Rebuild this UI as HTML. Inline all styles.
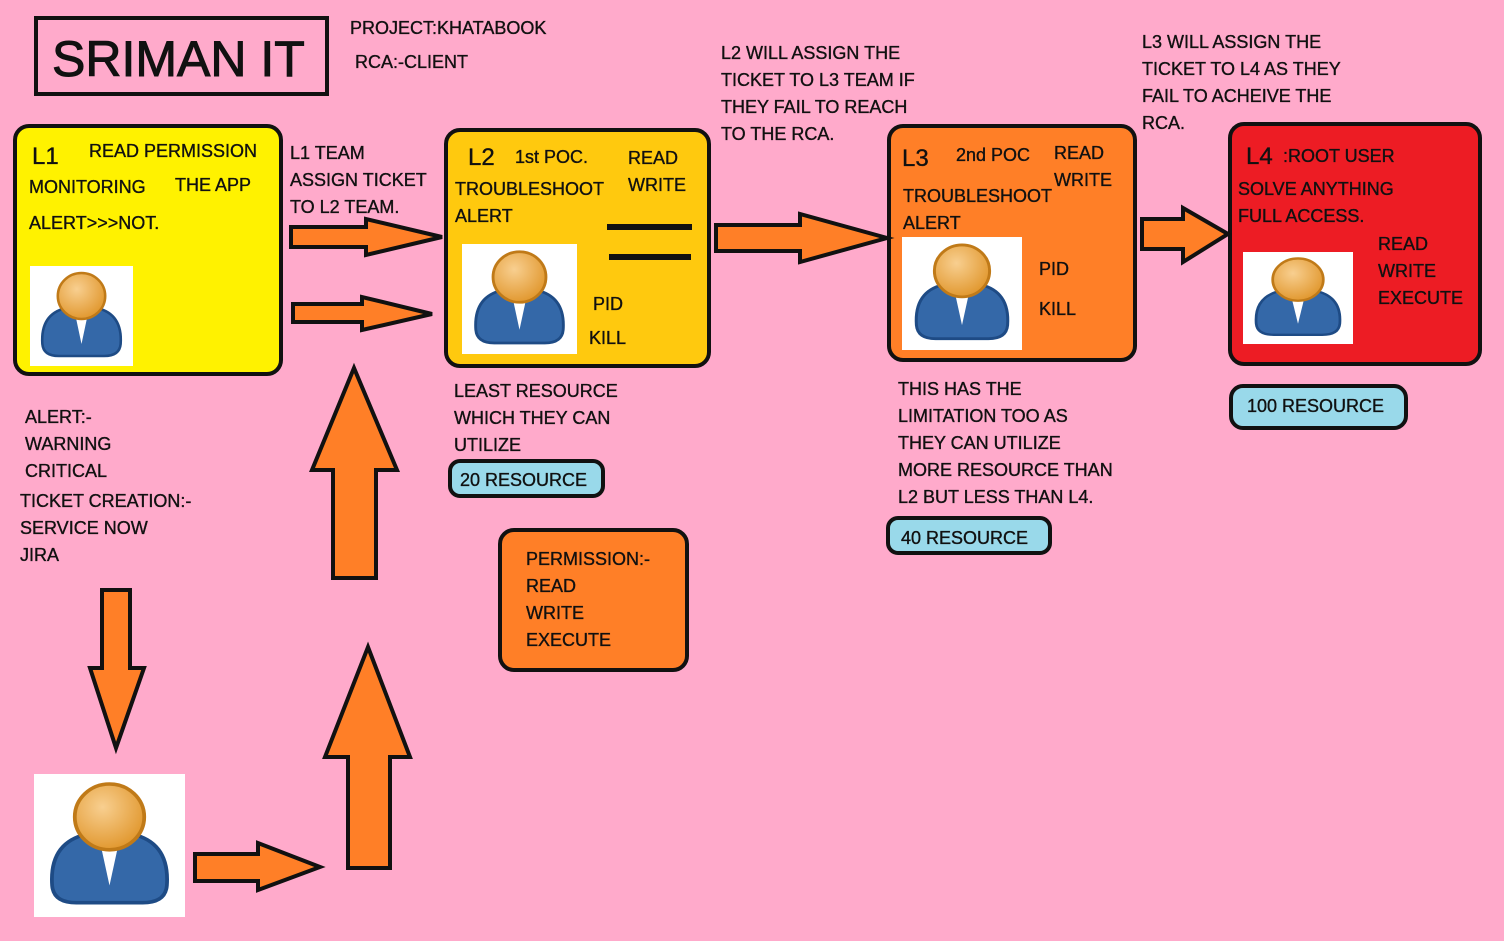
<!DOCTYPE html>
<html><head><meta charset="utf-8"><style>
html,body{margin:0;padding:0;background:#FFAACB;}
svg{display:block;}
text{font-family:"Liberation Sans",sans-serif;font-size:18px;fill:#111;stroke:#111;stroke-width:0.35px;}
</style></head><body>
<svg width="1504" height="941" viewBox="0 0 1504 941" xmlns="http://www.w3.org/2000/svg">
<defs>
<radialGradient id="hd" cx="0.4" cy="0.35" r="0.7"><stop offset="0" stop-color="#F8CF90"/><stop offset="1" stop-color="#E0952A"/></radialGradient>
<g id="ic">
<rect x="0" y="0" width="100" height="100" fill="#fff"/>
<path d="M12 78 Q10 48 35 42 L65 42 Q90 48 88 78 Q87 90 72 90 L28 90 Q13 90 12 78Z" fill="#3468A8" stroke="#1E4B85" stroke-width="2.5"/>
<path d="M43 44 L50 78 L57 44Z" fill="#fff"/>
<circle cx="50" cy="30" r="23" fill="url(#hd)" stroke="#C07A18" stroke-width="2.5"/>
</g>
</defs>
<rect width="1504" height="941" fill="#FFAACB"/>
<rect x="36" y="18" width="291" height="76" fill="none" stroke="#111" stroke-width="4"/>
<text x="52" y="76" style="font-size:50px;stroke-width:1px">SRIMAN IT</text>
<text x="350" y="34">PROJECT:KHATABOOK</text>
<text x="355" y="68">RCA:-CLIENT</text>
<text x="721" y="59">L2 WILL ASSIGN THE</text>
<text x="721" y="86">TICKET TO L3 TEAM IF</text>
<text x="721" y="113">THEY FAIL TO REACH</text>
<text x="721" y="140">TO THE RCA.</text>
<text x="1142" y="48">L3 WILL ASSIGN THE</text>
<text x="1142" y="75">TICKET TO L4 AS THEY</text>
<text x="1142" y="102">FAIL TO ACHEIVE THE</text>
<text x="1142" y="129">RCA.</text>
<rect x="15" y="126" width="266" height="248" rx="14" fill="#FFF200" stroke="#111" stroke-width="4"/>
<text x="32" y="164" style="font-size:24px">L1</text>
<text x="89" y="157">READ PERMISSION</text>
<text x="29" y="193">MONITORING</text>
<text x="175" y="191">THE APP</text>
<text x="29" y="229">ALERT&gt;&gt;&gt;NOT.</text>
<use href="#ic" transform="translate(30,266) scale(1.03,1)"/>
<text x="290" y="159">L1 TEAM</text>
<text x="290" y="186">ASSIGN TICKET</text>
<text x="290" y="213">TO L2 TEAM.</text>
<rect x="446" y="130" width="263" height="236" rx="14" fill="#FFC90E" stroke="#111" stroke-width="4"/>
<text x="468" y="165" style="font-size:24px">L2</text>
<text x="515" y="163">1st POC.</text>
<text x="628" y="164">READ</text>
<text x="455" y="195">TROUBLESHOOT</text>
<text x="628" y="191">WRITE</text>
<text x="455" y="222">ALERT</text>
<rect x="607" y="224" width="85" height="6" fill="#111"/>
<rect x="609" y="254" width="82" height="6" fill="#111"/>
<use href="#ic" transform="translate(462,244) scale(1.15,1.1)"/>
<text x="593" y="310">PID</text>
<text x="589" y="344">KILL</text>
<text x="454" y="397">LEAST RESOURCE</text>
<text x="454" y="424">WHICH THEY CAN</text>
<text x="454" y="451">UTILIZE</text>
<rect x="450" y="461" width="153" height="35" rx="10" fill="#99D9EA" stroke="#111" stroke-width="4"/>
<text x="460" y="486">20 RESOURCE</text>
<rect x="500" y="530" width="187" height="140" rx="14" fill="#FF7F27" stroke="#111" stroke-width="4"/>
<text x="526" y="565">PERMISSION:-</text>
<text x="526" y="592">READ</text>
<text x="526" y="619">WRITE</text>
<text x="526" y="646">EXECUTE</text>
<rect x="889" y="126" width="246" height="234" rx="14" fill="#FF7F27" stroke="#111" stroke-width="4"/>
<text x="902" y="166" style="font-size:24px">L3</text>
<text x="956" y="161">2nd POC</text>
<text x="1054" y="159">READ</text>
<text x="1054" y="186">WRITE</text>
<text x="903" y="202">TROUBLESHOOT</text>
<text x="903" y="229">ALERT</text>
<use href="#ic" transform="translate(902,237) scale(1.2,1.13)"/>
<text x="1039" y="275">PID</text>
<text x="1039" y="315">KILL</text>
<text x="898" y="395">THIS HAS THE</text>
<text x="898" y="422">LIMITATION TOO AS</text>
<text x="898" y="449">THEY CAN UTILIZE</text>
<text x="898" y="476">MORE RESOURCE THAN</text>
<text x="898" y="503">L2 BUT LESS THAN L4.</text>
<rect x="888" y="518" width="162" height="35" rx="10" fill="#99D9EA" stroke="#111" stroke-width="4"/>
<text x="901" y="544">40 RESOURCE</text>
<rect x="1230" y="124" width="250" height="240" rx="14" fill="#ED1C24" stroke="#111" stroke-width="4"/>
<text x="1246" y="164" style="font-size:24px">L4</text>
<text x="1283" y="162">:ROOT USER</text>
<text x="1238" y="195">SOLVE ANYTHING</text>
<text x="1238" y="222">FULL ACCESS.</text>
<text x="1378" y="250">READ</text>
<text x="1378" y="277">WRITE</text>
<text x="1378" y="304">EXECUTE</text>
<use href="#ic" transform="translate(1243,252) scale(1.1,0.92)"/>
<rect x="1231" y="386" width="175" height="42" rx="12" fill="#99D9EA" stroke="#111" stroke-width="4"/>
<text x="1247" y="412">100 RESOURCE</text>
<text x="25" y="423">ALERT:-</text>
<text x="25" y="450">WARNING</text>
<text x="25" y="477">CRITICAL</text>
<text x="20" y="507">TICKET CREATION:-</text>
<text x="20" y="534">SERVICE NOW</text>
<text x="20" y="561">JIRA</text>
<use href="#ic" transform="translate(34,774) scale(1.51,1.43)"/>
<g fill="#FF7F27" stroke="#111" stroke-width="4" stroke-linejoin="miter">
<polygon points="291,227 366,227 366,219 442,237 366,255 366,247 291,247"/>
<polygon points="293,304 362,304 362,297 432,314 362,330 362,322 293,322"/>
<polygon points="716,225 800,225 800,214 887,238 800,262 800,251 716,251"/>
<polygon points="1142,219 1183,219 1183,208 1228,234 1183,262 1183,249 1142,249"/>
<polygon points="195,854 258,854 258,843 320,867 258,890 258,881 195,881"/>
<polygon points="333,578 333,470 312,470 354,368 397,470 376,470 376,578"/>
<polygon points="348,868 348,757 325,757 368,647 410,757 390,757 390,868"/>
<polygon points="102,590 130,590 130,668 144,668 116,748 90,668 102,668"/>
</g>
</svg>
</body></html>
